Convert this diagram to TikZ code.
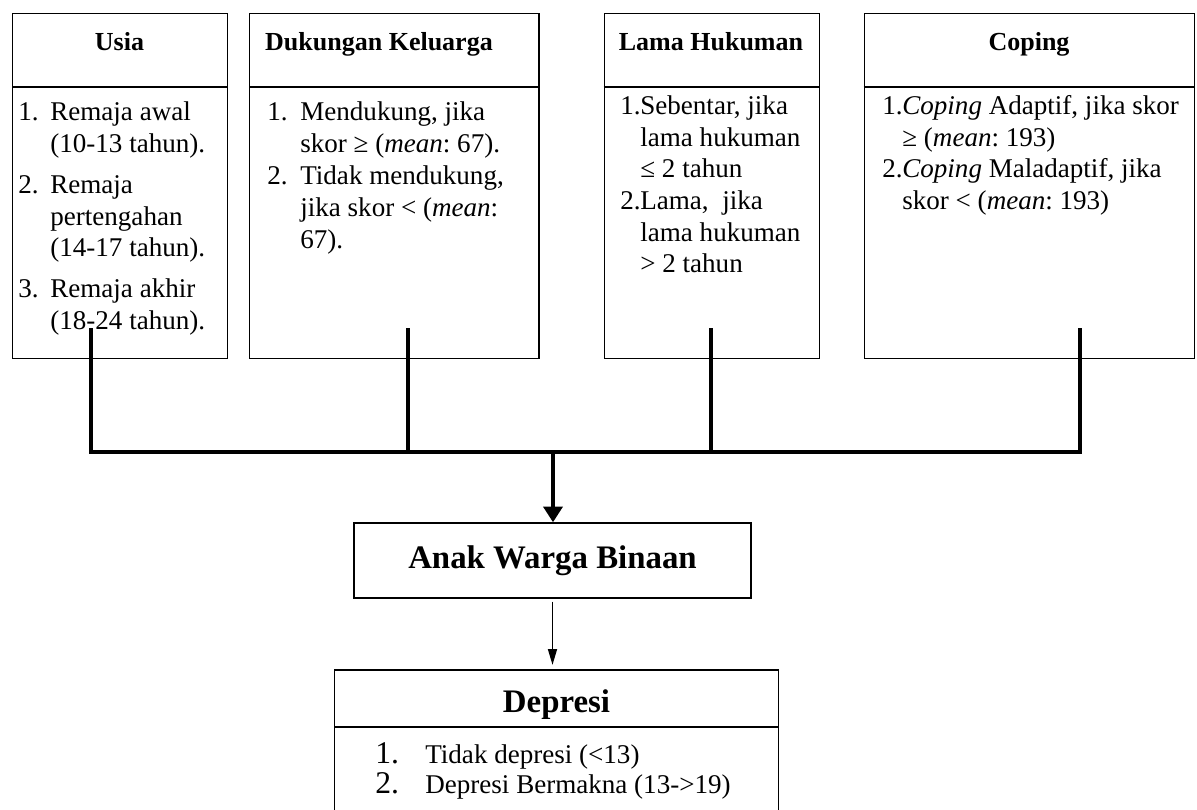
\documentclass[tikz,border=0pt]{standalone}
\usepackage{fontspec}
\setmainfont{Liberation Serif}
\usetikzlibrary{arrows.meta}
\frenchspacing

\begin{document}
\begin{tikzpicture}[x=0.02cm,y=-0.02cm,
    box/.style={draw,line width=0.7pt,inner sep=0pt,anchor=north west,minimum height=6.90cm},
    divider/.style={line width=1.1pt},
    bus/.style={line width=2.8pt,line join=miter},
    link/.style={line width=1.1pt,-{Triangle[length=9pt,width=5pt]}},
    head/.style={anchor=base,inner sep=0pt,font=\fontsize{14.8}{17}\selectfont\bfseries},
    body/.style={anchor=base west,inner sep=0pt,font=\fontsize{15.4}{18}\selectfont},
    big/.style={font=\fontsize{18.7}{22}\selectfont\bfseries}]
  \useasboundingbox (0,0) rectangle (1197,809);
  % variable boxes
  \node[box,minimum width=4.30cm] (usia) at (12,13) {};
  \node[box,minimum width=5.79cm] (dukungan) at (249,13) {};
  \node[box,minimum width=4.31cm] (lama) at (603.5,13) {};
  \node[box,minimum width=6.61cm] (coping) at (863.5,13) {};
  \foreach \b in {usia,dukungan,lama,coping}
    \draw[divider] (\b.west |- 0,87) -- (\b.east |- 0,87);
  \node[head] (usia-h) at (119.5,50) {Usia};
  \node[head] (dukungan-h) at (379,50) {Dukungan Keluarga};
  \node[head] (lama-h) at (711,50) {Lama Hukuman};
  \node[head] (coping-h) at (1029,50) {Coping};
  % Usia
  \foreach \y/\lbl [count=\i] in {120/1.,193/2.,297/3.}
    \node[body] (usia-n\i) at (18,\y) {\lbl};
  \foreach \y/\t [count=\i] in {120/Remaja awal,152/(10-13 tahun).,193/Remaja,225/pertengahan,256/(14-17 tahun).,297/Remaja akhir,329/(18-24 tahun).}
    \node[body] (usia-t\i) at (50,\y) {\t};
  % Dukungan Keluarga
  \foreach \y/\lbl [count=\i] in {120/1.,184/2.}
    \node[body] (dukungan-n\i) at (267,\y) {\lbl};
  \foreach \y/\t [count=\i] in {120/{Mendukung, jika},152/{skor ≥ (\textit{mean}: 67).},184/{Tidak mendukung,},216/{jika skor < (\textit{mean}:},248/67).}
    \node[body] (dukungan-t\i) at (300,\y) {\t};
  % Lama Hukuman
  \foreach \y/\lbl [count=\i] in {114/1.,209/2.}
    \node[body] (lama-n\i) at (620,\y) {\lbl};
  \foreach \y/\t [count=\i] in {114/{Sebentar, jika},146/lama hukuman,177/≤ 2 tahun,209/{Lama,\ \ jika},241/lama hukuman,272/> 2 tahun}
    \node[body] (lama-t\i) at (640,\y) {\t};
  % Coping
  \foreach \y/\lbl [count=\i] in {114/1.,177/2.}
    \node[body] (coping-n\i) at (882,\y) {\lbl};
  \foreach \y/\t [count=\i] in {114/{\textit{Coping} Adaptif, jika skor},146/{≥ (\textit{mean}: 193)},177/{\textit{Coping} Maladaptif, jika},209/{skor < (\textit{mean}: 193)}}
    \node[body] (coping-t\i) at (902,\y) {\t};
  % joining lines
  \coordinate (usia-stem) at (91,328);
  \coordinate (dukungan-stem) at (408,328);
  \coordinate (lama-stem) at (711,328);
  \coordinate (coping-stem) at (1080,328);
  \coordinate (hub) at (553,452);
  \draw[bus] (usia-stem) |- (coping-stem |- hub) -- (coping-stem);
  \foreach \b in {dukungan,lama}
    \draw[bus] (\b-stem) -- (\b-stem |- hub);
  \node[draw,line width=0.8pt,big,minimum width=7.94cm,minimum height=1.50cm] (anak) at (552.5,560.5) {Anak Warga Binaan};
  \draw[bus,-{Triangle[length=9pt,width=10.8pt]}] (hub) -- (hub |- anak.north);
  % Depresi
  \node[minimum width=8.86cm,minimum height=2.78cm,inner sep=0pt,anchor=north] (depresi) at (556.5,670) {};
  \draw[line width=0.8pt] (depresi.south west) -- (depresi.north west) -- (depresi.north east) -- (depresi.south east);
  \draw[line width=1.6pt] (depresi.west |- 0,727) -- (depresi.east |- 0,727);
  \node[big,anchor=base,inner sep=0pt] (depresi-h) at (556.5,712) {Depresi};
  \foreach \y/\lbl/\t [count=\i] in {763/1./{Tidak depresi (<13)},793/2./{Depresi Bermakna (13->19)}} {
    \node[anchor=base west,inner sep=0pt,font=\fontsize{18}{20}\selectfont] (depresi-n\i) at (375,\y) {\lbl};
    \node[body] (depresi-t\i) at (425,\y) {\t};
  }
  \draw[link,shorten <=0.06cm,shorten >=0.1cm] (anak.south) -- (anak.south |- depresi.north);
\end{tikzpicture}
\end{document}
